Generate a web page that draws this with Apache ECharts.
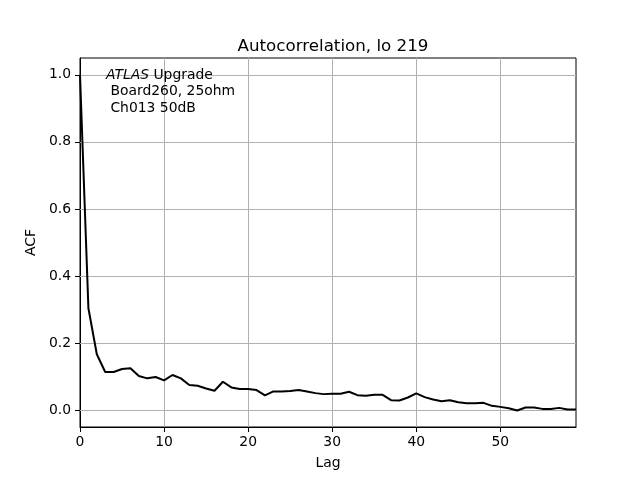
<!DOCTYPE html>
<html>
<head>
<meta charset="utf-8">
<script src="https://cdn.jsdelivr.net/npm/echarts@6/dist/echarts.min.js"></script>
<style>html,body{margin:0;padding:0;background:#fff}#c{width:640px;height:480px}</style>
</head>
<body>
<div id="c"></div>
<script>
const lags = Array.from({length: 60}, (_, i) => i);
const acf = [
  1.0, 0.304, 0.167, 0.114, 0.114, 0.123, 0.125, 0.102, 0.095, 0.099,
  0.089, 0.105, 0.095, 0.075, 0.073, 0.065, 0.058, 0.085, 0.068, 0.063,
  0.063, 0.060, 0.044, 0.056, 0.056, 0.057, 0.060, 0.056, 0.051, 0.048,
  0.049, 0.049, 0.055, 0.045, 0.043, 0.046, 0.046, 0.030, 0.029, 0.038,
  0.050, 0.039, 0.032, 0.027, 0.030, 0.024, 0.021, 0.021, 0.022, 0.013,
  0.010, 0.006, -0.001, 0.008, 0.008, 0.004, 0.004, 0.007, 0.002, 0.002
];
const xTicks = [0, 10, 20, 30, 40, 50];
const yTicks = [0.0, 0.2, 0.4, 0.6, 0.8, 1.0];
const titleText = 'Autocorrelation, lo 219';
const annotation = ['ATLAS', ' Upgrade', ' Board260, 25ohm', ' Ch013 50dB'];

const chart = echarts.init(document.getElementById('c'), null, {renderer: 'canvas'});
const font = 'DejaVu Sans';
chart.setOption({
  animation: false,
  backgroundColor: '#fff',
  title: {
    text: titleText, left: 328, top: 33, textAlign: 'center',
    textStyle: {fontFamily: font, fontSize: 16.7, fontWeight: 'normal', color: '#000'}
  },
  grid: {left: 80, right: 64, top: 58, bottom: 53, show: true, borderColor: '#000', borderWidth: 1, containLabel: false},
  xAxis: {
    type: 'value', min: 0, max: 59,
    name: 'Lag', nameLocation: 'middle', nameGap: 29,
    nameTextStyle: {fontFamily: font, fontSize: 13.9, color: '#000'},
    axisLine: {show: true, onZero: false, lineStyle: {color: '#000', width: 1}},
    axisTick: {show: true, inside: false, length: 5, customValues: xTicks, lineStyle: {color: '#000'}},
    axisLabel: {fontFamily: font, fontSize: 13.9, color: '#000', margin: 8, customValues: xTicks},
    splitLine: {show: false}
  },
  yAxis: {
    type: 'value', min: -0.05, max: 1.05,
    name: 'ACF', nameLocation: 'middle', nameGap: 40,
    nameTextStyle: {fontFamily: font, fontSize: 13.9, color: '#000'},
    axisLine: {show: true, onZero: false, lineStyle: {color: '#000', width: 1}},
    axisTick: {show: true, inside: false, length: 5, customValues: yTicks, lineStyle: {color: '#000'}},
    axisLabel: {fontFamily: font, fontSize: 13.9, color: '#000', margin: 9, customValues: yTicks,
      formatter: v => v.toFixed(1)},
    splitLine: {show: false}
  },
  graphic: [{
    type: 'text', left: 106, top: 67,
    style: {
      text: '{i|' + annotation[0] + '}' + annotation[1] + '\n' + annotation[2] + '\n' + annotation[3],
      font: '13.9px "DejaVu Sans"', fill: '#000', lineHeight: 16.5,
      rich: {i: {fontStyle: 'italic', fontFamily: font, fontSize: 13.9, lineHeight: 16.5}}
    },
    z: 100
  }],
  series: [{
    type: 'line', data: lags.map((l, i) => [l, acf[i]]),
    showSymbol: false, symbol: 'none',
    lineStyle: {color: '#000', width: 2}, z: 10,
    markLine: {
      silent: true, symbol: 'none', label: {show: false}, animation: false,
      lineStyle: {color: '#b0b0b0', width: 1, type: 'solid'},
      data: yTicks.map(v => ({yAxis: v})).concat(xTicks.slice(1).map(v => ({xAxis: v})))
    }
  }]
});
</script>
</body>
</html>
